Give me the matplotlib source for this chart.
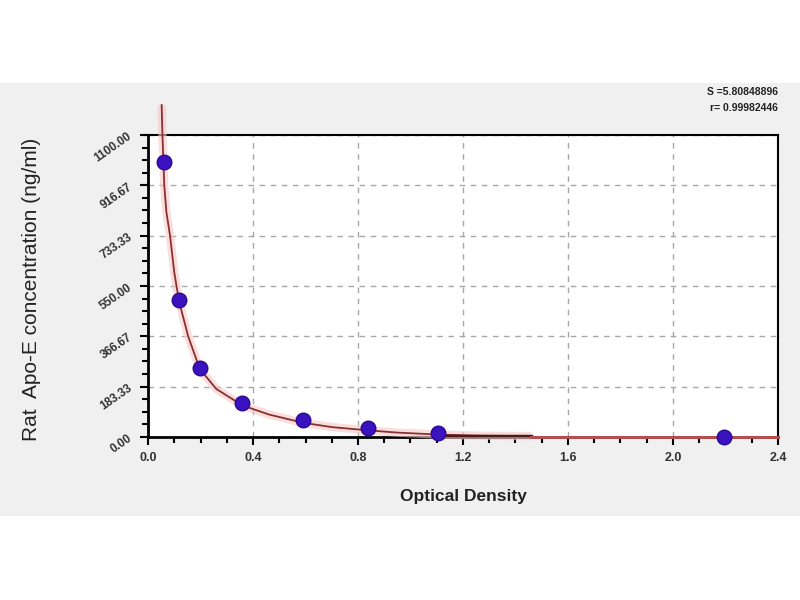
import numpy as np
import matplotlib
matplotlib.use("Agg")
import matplotlib.pyplot as plt
from matplotlib.patches import Rectangle
from matplotlib.ticker import MultipleLocator, FixedLocator, AutoMinorLocator

plt.rcParams['font.family'] = ['Liberation Sans', 'DejaVu Sans']

# standard points (OD, concentration)
od_points = [0.06, 0.117, 0.197, 0.36, 0.59, 0.84, 1.105, 2.195]
conc_points = [1000.0, 500.0, 250.0, 125.0, 62.5, 31.25, 15.6, 0.0]

# fitted curve
curve_od = [0.052, 0.055, 0.062, 0.07, 0.084, 0.10, 0.118, 0.153, 0.197,
            0.26, 0.36, 0.46, 0.59, 0.70, 0.84, 0.95, 1.10, 1.25, 1.46]
curve_conc = [1209, 1100, 916, 820, 733, 600, 495, 367, 248,
              175, 115, 82, 52, 36, 24, 16, 9, 5, 3]

y_ticks = [0.0, 183.33, 366.67, 550.0, 733.33, 916.67, 1100.0]
y_tick_labels = ["0.00", "183.33", "366.67", "550.00", "733.33", "916.67", "1100.00"]
x_ticks = [0.0, 0.4, 0.8, 1.2, 1.6, 2.0, 2.4]
x_tick_labels = ["0.0", "0.4", "0.8", "1.2", "1.6", "2.0", "2.4"]

fig = plt.figure(figsize=(8, 6), dpi=100)
fig.patch.set_facecolor("white")
fig.patches.append(Rectangle((0, 1 - 516 / 600), 1, (516 - 83) / 600,
                             transform=fig.transFigure, facecolor="#f0f0f0",
                             edgecolor="none", zorder=-10))

ax = fig.add_axes([0.185, 0.2717, 0.7875, 0.5033])
ax.set_facecolor("white")
ax.set_xlim(0, 2.4)
ax.set_ylim(0, 1100)

ax.yaxis.set_major_locator(FixedLocator(y_ticks))
ax.yaxis.set_minor_locator(AutoMinorLocator(4))
ax.xaxis.set_major_locator(FixedLocator(x_ticks))
ax.xaxis.set_minor_locator(MultipleLocator(0.1))
ax.set_yticklabels(y_tick_labels, rotation=35, fontsize=8.5, fontweight="bold", color="#333333")
ax.set_xticklabels(x_tick_labels, fontsize=9, fontweight="bold", color="#333333")

ax.tick_params(which="major", direction="out", length=6, width=1.5, color="black")
ax.tick_params(which="minor", direction="out", length=4, width=1.5, color="black")
ax.tick_params(axis="y", pad=4)
ax.tick_params(axis="x", pad=5)

for s in ax.spines.values():
    s.set_linewidth(1.5)
    s.set_color("black")
ax.spines["left"].set_linewidth(2)
ax.spines["bottom"].set_linewidth(2)

ax.grid(True, which="major", linestyle=(0, (4, 4)), color="#a8a8a8", linewidth=1)

# curve: pink halo + dark red line
ax.plot(curve_od, curve_conc, color="#f8c8c8", linewidth=6, alpha=0.6,
        clip_on=False, zorder=3, solid_capstyle="butt")
ax.plot(curve_od, curve_conc, color="#8b3030", linewidth=1.3, clip_on=False, zorder=4)
ax.plot([curve_od[-3], curve_od[-1]], [4, 4], color="#4a1a1a", linewidth=2.5, zorder=4)
ax.plot([curve_od[-1], 2.4], [0, 0], color="#c05050", linewidth=2, zorder=5, clip_on=False)

ax.plot(od_points, conc_points, linestyle="none", marker="o", markersize=10.5,
        markerfacecolor="#3a12c0", markeredgecolor="#2a0a90", zorder=6, clip_on=False)

ax.set_xlabel("Optical Density", fontsize=12.5, fontweight="bold", color="#222222")
ax.xaxis.set_label_coords(0.5, -0.172)
ax.set_ylabel("Rat  Apo-E concentration (ng/ml)", fontsize=15, color="#222222")
ax.yaxis.set_label_coords(-0.17, 0.49)

fig.text(0.972, 0.847, "S =5.80848896", ha="right", va="center", fontsize=7.5,
         fontweight="bold", color="#222222")
fig.text(0.972, 0.820, "r= 0.99982446", ha="right", va="center", fontsize=7.5,
         fontweight="bold", color="#222222")

fig.savefig("out.png", dpi=100)
